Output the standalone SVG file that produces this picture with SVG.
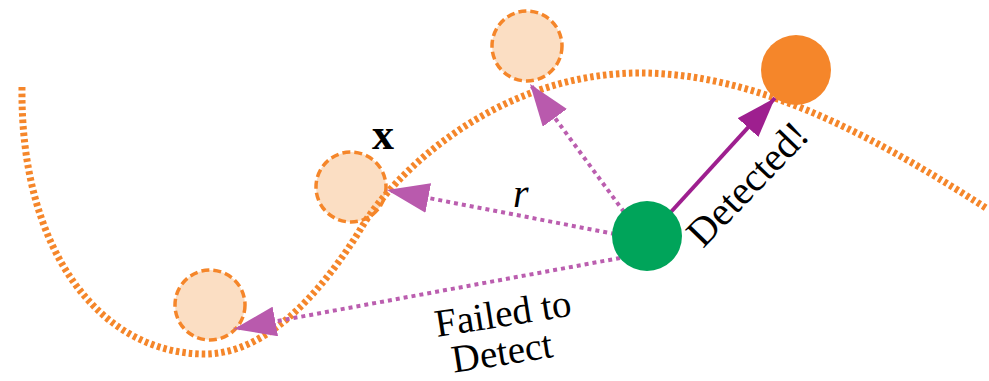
<svg xmlns="http://www.w3.org/2000/svg" width="989" height="381" viewBox="0 0 989 381">
<style>
.ghost{fill:#fbdec3;stroke:#f5862a;stroke-width:3.5;stroke-dasharray:8 4}
.curve{fill:none;stroke:#f5862a;stroke-width:7;stroke-dasharray:3.5 3}
.probe{fill:none;stroke:#bb5eaf;stroke-width:4;stroke-dasharray:4 4}
.hit{fill:none;stroke:#9e1f8f;stroke-width:4}
</style>
<defs>
<marker id="ah" markerUnits="userSpaceOnUse" markerWidth="42" markerHeight="30" viewBox="0 0 42 30" refX="42" refY="15" orient="auto">
<path d="M0,0 L42,15 L0,30 z" fill="#b95aad"/>
</marker>
<marker id="ahs" markerUnits="userSpaceOnUse" markerWidth="40" markerHeight="28" viewBox="0 0 40 28" refX="40" refY="14" orient="auto">
<path d="M0,0 L40,14 L0,28 z" fill="#9e1f8f"/>
</marker>
</defs>
<g id="ghost-top"><circle class="ghost" cx="527" cy="46" r="35"/></g>
<g id="ghost-x"><circle class="ghost" cx="351" cy="187" r="35"/></g>
<g id="ghost-bottom"><circle class="ghost" cx="210" cy="305" r="35"/></g>
<g id="manifold"><path class="curve" d="M22,87 C20,250 100,354 205,354 C265,354 320,295 360,230 C395,170 500,73 640,73 C760,73 880,140 986,208"/></g>
<g id="target"><circle cx="796" cy="70" r="35" fill="#f5862a"/></g>
<g id="connectors">
<line class="probe" x1="615" y1="234" x2="387" y2="190" marker-end="url(#ah)"/>
<line class="probe" x1="624" y1="212" x2="530" y2="84" marker-end="url(#ah)"/>
<line class="probe" x1="620" y1="258" x2="234" y2="329" marker-end="url(#ah)"/>
<line class="hit" x1="670" y1="213" x2="775" y2="98" marker-end="url(#ahs)"/>
</g>
<g id="source"><circle cx="647" cy="236" r="35" fill="#00a45a"/></g>
<g id="labels" font-family="'Liberation Serif', 'DejaVu Serif', serif" fill="#000">
<text x="372" y="149" font-size="44" font-weight="bold">x</text>
<text x="513" y="207" font-size="40" font-style="italic">r</text>
<g transform="translate(437,337) rotate(-9)">
<text x="0" y="0" font-size="39">Failed to</text>
<text x="11" y="38" font-size="39">Detect</text>
</g>
<text transform="translate(757,193) rotate(-46)" text-anchor="middle" font-size="40">Detected!</text>
</g>
</svg>
